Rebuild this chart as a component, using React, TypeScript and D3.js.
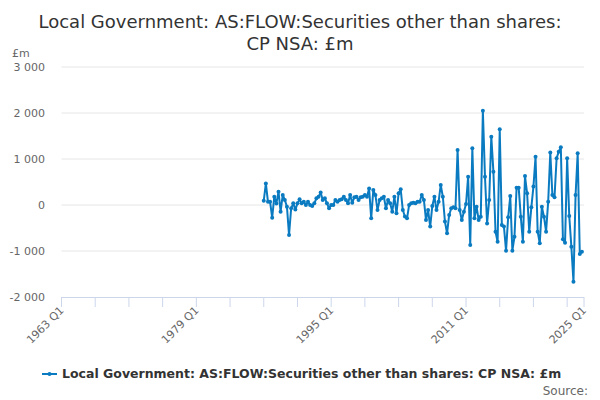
import React from 'react';
import * as d3 from 'd3';

// Quarterly series, first value is 1987 Q1
const startYear = 1987;
const values = [
  95, 470, 70, 70, -275, 180, 35, 290, -145, 217, 110, -36, -650, -72, 36, -100,
  36, 123, 36, 72, 0, 72, 0, -20, 36, 145, 180, 270, 110, 145, 36, -72,
  0, 0, 110, 72, 110, 123, 180, 110, 36, 217, 50, 166, 180, 110, 166, 180,
  217, 180, 360, -290, 325, 217, -110, 110, 145, 180, -72, 110, 36, -145,
  180, -180, 254, 340, -110, -250, -290, 0, 36, 50, 36, 72, 72, 217, 110, -325,
  -110, -470, -20, 180, -110, 72, 435, 180, -360, -615, -217, -72, -50, -72, 1196, -110,
  -326, -145, 22, 616, -870, 1232, -290, -36, -326, -254, 2050, 616, -400, 108, 1486, 725,
  -580, -800, 1645, -435, -470, -993, -268, 196, -993, -690, 377, 377, -254, -800, 630, 254,
  -580, -50, 400, 1050, -580, -834, -36, -254, -580, 72, 1140, 217, 167, 1015, 1160, 1254,
  -747, -820, 1015, -240, -906, -1668, 217, 1124, -1066, -1015,
];

const yTicks = [-2000, -1000, 0, 1000, 2000, 3000];
const xLabelYears = [1963, 1979, 1995, 2011, 2025];
const titleLines = ['Local Government: AS:FLOW:Securities other than shares:', 'CP NSA: £m'];
const seriesName = 'Local Government: AS:FLOW:Securities other than shares: CP NSA: £m';

const firstYear = 1963;
const lastYear = 2025;

const App: React.FC = () => {
  const width = 600;
  const height = 400;
  const margin = { top: 67, right: 16, bottom: 103, left: 61.5 };
  const color = '#0b7bc1';
  const font = 'DejaVu Sans, sans-serif';

  // x in quarters since 1963 Q1
  const x = d3
    .scaleLinear()
    .domain([0, (lastYear - firstYear) * 4])
    .range([margin.left, width - margin.right]);
  const y = d3
    .scaleLinear()
    .domain([-2000, 3000])
    .range([height - margin.bottom, margin.top]);

  const offset = (startYear - firstYear) * 4;
  const points = values.map((v, i) => ({ q: offset + i, v }));
  const line = d3
    .line<{ q: number; v: number }>()
    .x((d) => x(d.q))
    .y((d) => y(d.v));

  const tickQs = d3.range(0, (lastYear - firstYear) * 4 + 1, 16);
  if (tickQs[tickQs.length - 1] !== (lastYear - firstYear) * 4) tickQs.push((lastYear - firstYear) * 4);
  const fmt = (v: number) => d3.format(',')(v).replace(/,/g, ' ').replace('−', '-');

  const x0 = x.range()[0];
  const x1 = x.range()[1];
  const yBase = y(-2000);

  return (
    <div style={{ position: 'absolute', left: 0, top: 0 }}>
      <svg width={width} height={height} style={{ display: 'block', fontFamily: font }}>
        <rect width={width} height={height} fill="#fff" />
        {titleLines.map((t, i) => (
          <text key={i} x={300} y={28 + i * 22} textAnchor="middle" fontSize={18} fill="#333">
            {t}
          </text>
        ))}
        <text x={12} y={57} fontSize={11} fill="#666">£m</text>

        {yTicks.map((t) => (
          <g key={t}>
            {t !== -2000 && <line x1={x0} x2={x1} y1={y(t)} y2={y(t)} stroke="#e6e6e6" />}
            <text x={45} y={y(t) + 4} textAnchor="end" fontSize={11} fill="#666">
              {fmt(t)}
            </text>
          </g>
        ))}

        <line x1={x0} x2={x1} y1={yBase + 0.5} y2={yBase + 0.5} stroke="#ccd6eb" />
        {tickQs.map((q) => (
          <line key={q} x1={x(q)} x2={x(q)} y1={yBase} y2={yBase + 10} stroke="#ccd6eb" />
        ))}
        {xLabelYears.map((yr) => {
          const px = x((yr - firstYear) * 4);
          return (
            <text
              key={yr}
              transform={`translate(${px + 3},${yBase + 14}) rotate(-45)`}
              textAnchor="end"
              fontSize={11}
              fill="#666"
            >
              {`${yr} Q1`}
            </text>
          );
        })}

        <path d={line(points) || ''} fill="none" stroke={color} strokeWidth={2} strokeLinejoin="round" />
        {points.map((d) => (
          <circle key={d.q} cx={x(d.q)} cy={y(d.v)} r={2} fill={color} />
        ))}

        <g>
          <line x1={42} x2={57} y1={374} y2={374} stroke={color} strokeWidth={2} />
          <circle cx={49.5} cy={374} r={2} fill={color} />
          <text x={62} y={378} fontSize={12.5} fontWeight="bold" fill="#333">
            {seriesName}
          </text>
        </g>
        <text x={588} y={395} textAnchor="end" fontSize={12} fill="#666">Source:</text>
      </svg>
    </div>
  );
};

export default App;
